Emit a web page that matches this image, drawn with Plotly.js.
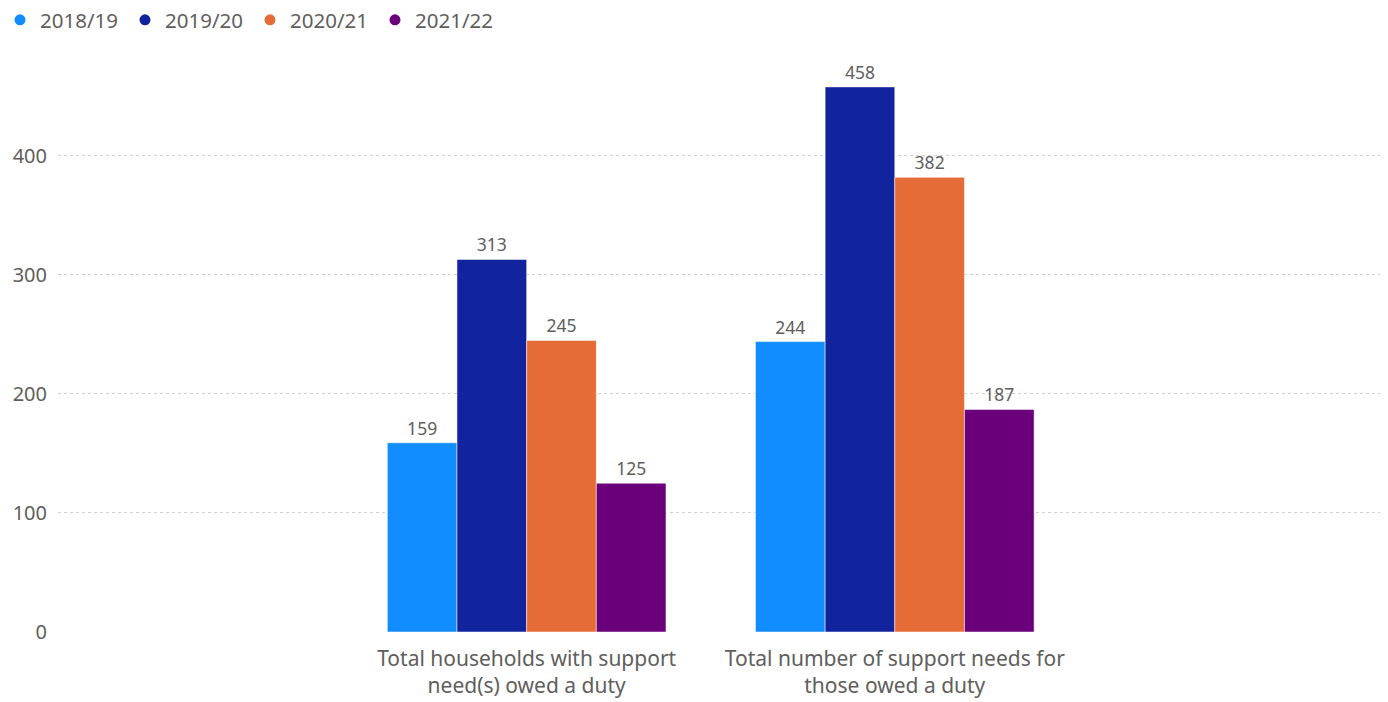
<!DOCTYPE html>
<html>
<head>
<meta charset="utf-8">
<script src="https://cdn.plot.ly/plotly-3.0.1.min.js"></script>
<style>html,body{margin:0;padding:0;background:#fff;}#chart{width:1388px;height:702px;}</style>
</head>
<body>
<div id="chart"></div>
<script>
const categories = ["Total households with support<br>need(s) owed a duty", "Total number of support needs for<br>those owed a duty"];
const seriesNames = ["2018/19", "2019/20", "2020/21", "2021/22"];
const seriesColors = ["#118DFF", "#12239E", "#E66C37", "#6B007B"];
const values2018_19 = [159, 244];
const values2019_20 = [313, 458];
const values2020_21 = [245, 382];
const values2021_22 = [125, 187];
const yTicks = [0, 100, 200, 300, 400];

const allValues = [values2018_19, values2019_20, values2020_21, values2021_22];
const font = "Noto Sans, Open Sans, sans-serif";
const gray = "#605E5C";

const traces = [];
allValues.forEach((vals, i) => {
  traces.push({
    type: "bar",
    name: seriesNames[i],
    x: [0, 1],
    y: vals,
    marker: {color: seriesColors[i], line: {color: "rgba(255,255,255,0.5)", width: 1}},
    text: vals.map(String),
    textposition: "outside",
    cliponaxis: false,
    textfont: {family: font, size: 17.5, color: gray},
    showlegend: false,
    hoverinfo: "x+y+name"
  });
});
seriesNames.forEach((n, i) => {
  traces.push({
    type: "scatter",
    mode: "markers",
    name: n,
    x: [null],
    y: [null],
    marker: {color: seriesColors[i], size: 11, symbol: "circle"},
    showlegend: true,
    hoverinfo: "skip"
  });
});

const layout = {
  width: 1388,
  height: 702,
  margin: {l: 58, r: 8, t: 50, b: 70},
  paper_bgcolor: "#fff",
  plot_bgcolor: "#fff",
  barmode: "group",
  bargap: 0.243,
  bargroupgap: 0,
  showlegend: true,
  legend: {
    orientation: "h",
    x: 0, xref: "container", xanchor: "left",
    y: 1, yref: "container", yanchor: "top",
    font: {family: font, size: 20.5, color: gray},
    itemwidth: 30,
    entrywidth: 80,
    entrywidthmode: "pixels",
    tracegroupgap: 0,
    traceorder: "normal"
  },
  xaxis: {
    range: [-1.273, 2.318],
    tickmode: "array",
    tickvals: [0, 1],
    ticktext: categories,
    tickfont: {family: font, size: 21, color: gray},
    showgrid: false,
    zeroline: false,
    showline: false,
    ticks: "",
    ticklabelstandoff: 12,
    fixedrange: true
  },
  yaxis: {
    range: [0, 489],
    tickmode: "array",
    tickvals: yTicks,
    ticktext: yTicks.map(String),
    tickfont: {family: font, size: 20, color: gray},
    showgrid: true,
    gridcolor: "#D2D0CE",
    griddash: "dot",
    gridwidth: 1,
    zeroline: false,
    showline: false,
    ticks: "",
    ticklabelstandoff: 10,
    fixedrange: true
  }
};

Plotly.newPlot("chart", traces, layout, {displayModeBar: false, staticPlot: true});
</script>
</body>
</html>
